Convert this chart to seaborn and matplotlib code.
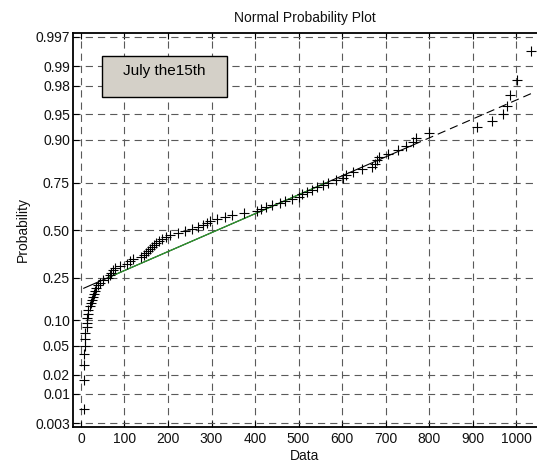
import math
from statistics import NormalDist
import numpy as np
import pandas as pd
import matplotlib
matplotlib.use("Agg")
import matplotlib.pyplot as plt
from matplotlib.patches import Rectangle
import seaborn as sns

# ---- data (sorted sample) ----
data_values = [6, 7, 8, 8, 9, 9, 10, 13, 14, 15, 16, 17, 20, 23, 25, 27, 29, 32, 35, 39,
               44, 50, 62, 66, 69, 73, 78, 90, 105, 112, 120, 138, 145, 150, 155, 159, 163,
               167, 173, 180, 187, 195, 205, 222, 240, 255, 270, 280, 290, 297, 312, 331,
               348, 375, 405, 414, 425, 440, 457, 470, 485, 500, 508, 520, 531, 543, 556,
               567, 585, 603, 609, 625, 645, 668, 676, 680, 684, 705, 728, 748, 763, 770,
               800, 910, 945, 970, 980, 986, 1002, 1034]
prob_ticks = [0.003, 0.01, 0.02, 0.05, 0.10, 0.25, 0.50, 0.75, 0.90, 0.95, 0.98, 0.99, 0.997]
prob_labels = ["0.003", "0.01", "0.02", "0.05", "0.10", "0.25", "0.50", "0.75",
               "0.90", "0.95", "0.98", "0.99", "0.997"]
x_ticks = [0, 100, 200, 300, 400, 500, 600, 700, 800, 900, 1000]
title_text = "Normal Probability Plot"
x_label = "Data"
y_label = "Probability"
box_text = "July the15th"

# ---- helpers: normal probability scale ----
_nd = NormalDist()


def _fwd(p):
    p = np.asarray(p, dtype=float)
    out = np.empty_like(p)
    flat = p.ravel()
    res = out.ravel()
    for k, v in enumerate(flat):
        if not np.isfinite(v):
            res[k] = v
        else:
            res[k] = _nd.inv_cdf(min(max(v, 1e-12), 1 - 1e-12))
    return out


def _inv(z):
    z = np.asarray(z, dtype=float)
    out = np.empty_like(z)
    flat = z.ravel()
    res = out.ravel()
    for k, v in enumerate(flat):
        res[k] = 0.5 * (1.0 + math.erf(v / math.sqrt(2.0))) if np.isfinite(v) else v
    return out


x = np.sort(np.asarray(data_values, dtype=float))
n = len(x)
p = (np.arange(1, n + 1) - 0.5) / n
df = pd.DataFrame({"Data": x, "Probability": p})

# reference line through the quartiles (as normplot does)
q25, q75, q90 = np.percentile(x, [25, 75, 90])
z25, z75 = _nd.inv_cdf(0.25), _nd.inv_cdf(0.75)
slope = (z75 - z25) / (q75 - q25)


def line_p(xs):
    xs = np.asarray(xs, dtype=float)
    return _inv(z25 + slope * (xs - q25))


# ---- styling ----
sns.set_theme(style="white")
plt.rcParams["font.family"] = ["Liberation Sans", "DejaVu Sans"]
plt.rcParams["lines.scale_dashes"] = False

fig = plt.figure(figsize=(5.37, 4.65), dpi=100)
ax = fig.add_axes([72.7 / 537, 1 - 426.7 / 465, (537 - 72.7) / 537, (426.7 - 33.3) / 465])

ax.set_yscale("function", functions=(_fwd, _inv))

grid_dash = (0, (5.2, 3.6))
ax.grid(True, which="major", color="#5a5a5a", linestyle=grid_dash, linewidth=0.8, zorder=0)
ax.set_axisbelow(True)

# fit line pieces
xs_solid = np.array([x.min(), q90])
ax.plot(xs_solid, line_p(xs_solid), color="black", linewidth=0.8, zorder=2)
xs_mid = np.array([q25, q75])
ax.plot(xs_mid, line_p(xs_mid), color="#2e9a2e", linewidth=0.9, zorder=3)
xs_dash = np.array([q90, x.max()])
ax.plot(xs_dash, line_p(xs_dash), color="black", linewidth=0.8,
        linestyle=(0, (6, 3.6)), zorder=2)

sns.scatterplot(data=df, x="Data", y="Probability", marker="+", color="black",
                s=52, linewidth=0.8, ax=ax, zorder=4, legend=False)

ax.set_xlim(-19, 1048)
ax.set_ylim(_inv(np.array([-2.795]))[0], _inv(np.array([2.797]))[0])
ax.set_xticks(x_ticks)
ax.set_xticklabels([str(t) for t in x_ticks])
ax.set_yticks(prob_ticks)
ax.set_yticklabels(prob_labels)
ax.minorticks_off()

ax.tick_params(axis="both", direction="in", length=4, width=0.8, color="black",
               labelsize=10, labelcolor="#111111", pad=2)
ax.tick_params(axis="x", top=True, bottom=True, pad=4)
ax.tick_params(axis="y", left=True, right=False)

for side in ["left", "bottom", "top"]:
    ax.spines[side].set_visible(True)
    ax.spines[side].set_color("black")
    ax.spines[side].set_linewidth(1.3)
ax.spines["right"].set_visible(False)

ax.set_title(title_text, fontsize=10, pad=8, color="#111111")
ax.set_xlabel(x_label, fontsize=10, labelpad=2, color="#111111")
ax.set_ylabel(y_label, fontsize=10, labelpad=4, color="#111111")

# annotation box
ax.add_patch(Rectangle((0.0625, 0.837), 0.269, 0.106, transform=ax.transAxes,
                       facecolor="#d4d0c8", edgecolor="black", linewidth=1.0, zorder=5))
ax.text(0.197, 0.905, box_text, transform=ax.transAxes, ha="center", va="center",
        fontsize=11, color="black", zorder=6)

fig.savefig("out.png", dpi=100)
